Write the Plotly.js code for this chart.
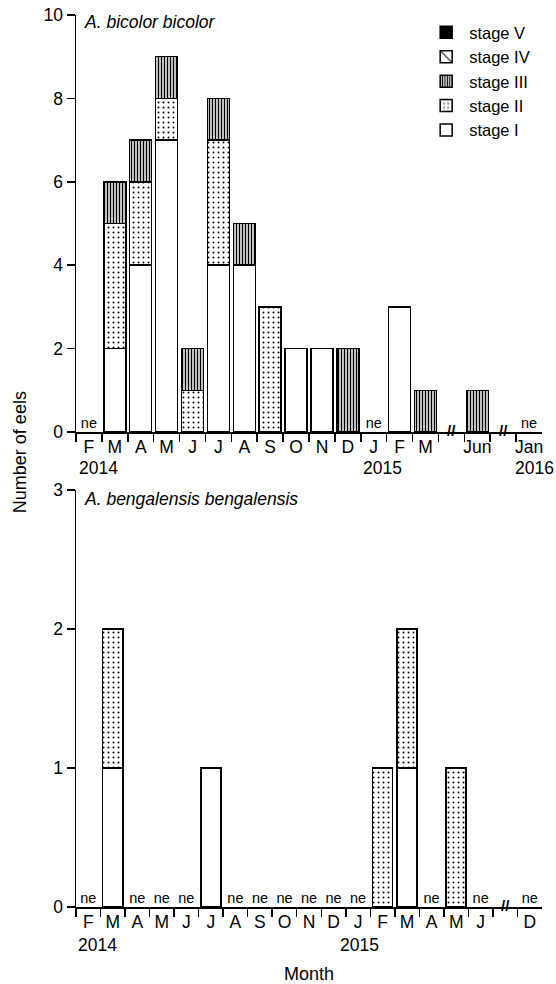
<!DOCTYPE html>
<html>
<head>
<meta charset="utf-8">
<script src="https://cdn.plot.ly/plotly-3.0.1.min.js"></script>
<style>html,body{margin:0;padding:0;background:#fff;}#chart{width:556px;height:984px;}</style>
</head>
<body>
<div id="chart"></div>
<script>
// ---- data: A. bicolor bicolor (top) ----
const topMonths = ['F','M','A','M','J','J','A','S','O','N','D','J','F','M','','Jun','','Jan'];
const topStageI   = [0,2,4,7,0,4,4,0,2,2,0,0,3,0,null,0,null,0];
const topStageII  = [0,3,2,1,1,3,0,3,0,0,0,0,0,0,null,0,null,0];
const topStageIII = [0,1,1,1,1,1,1,0,0,0,2,0,0,1,null,1,null,0];
const topStageIV  = [0,0,0,0,0,0,0,0,0,0,0,0,0,0,null,0,null,0];
const topStageV   = [0,0,0,0,0,0,0,0,0,0,0,0,0,0,null,0,null,0];
const topNE = [0, 11, 17];          // slots not examined
const topBreaks = [14, 16];         // axis breaks
const topYears = [{label:'2014', pos:0.85},{label:'2015', pos:11.85},{label:'2016', pos:17.7}];

// ---- data: A. bengalensis bengalensis (bottom) ----
const botMonths = ['F','M','A','M','J','J','A','S','O','N','D','J','F','M','A','M','J','','D'];
const botStageI   = [0,1,0,0,0,1,0,0,0,0,0,0,0,1,0,0,0,null,0];
const botStageII  = [0,1,0,0,0,0,0,0,0,0,0,0,1,1,0,1,0,null,0];
const botStageIII = [0,0,0,0,0,0,0,0,0,0,0,0,0,0,0,0,0,null,0];
const botStageIV  = [0,0,0,0,0,0,0,0,0,0,0,0,0,0,0,0,0,null,0];
const botStageV   = [0,0,0,0,0,0,0,0,0,0,0,0,0,0,0,0,0,null,0];
const botNE = [0,2,3,4,6,7,8,9,10,11,14,16,18];
const botBreaks = [17];
const botYears = [{label:'2014', pos:0.87},{label:'2015', pos:11.56}];

const stageNames = ['stage I','stage II','stage III','stage IV','stage V'];

// ---- styles ----
const FONT = 'Liberation Sans, Arial, Helvetica, sans-serif';
const patterns = [
  {shape:'', bgcolor:'#fff'},
  {shape:'.', size:5, solidity:0.12, fgcolor:'#000', bgcolor:'#fff', fillmode:'replace'},
  {shape:'|', size:3, solidity:0.5, fgcolor:'#000', bgcolor:'#fff', fillmode:'replace'},
  {shape:'\\', size:10, solidity:0.12, fgcolor:'#000', bgcolor:'#fff', fillmode:'replace'},
  {shape:'', bgcolor:'#000'}
];
const fills = ['#fff','#fff','#fff','#fff','#000'];

const centers = arr => arr.map((_, i) => i + 0.5);
const traces = [];
function addBars(series, xa, ya, width, showlegend) {
  series.forEach((vals, k) => {
    traces.push({
      type:'bar', x: centers(vals), y: vals.map(v => (v ? v : null)), name: stageNames[k],
      xaxis: xa, yaxis: ya, width: width, showlegend: showlegend,
      marker: {color: fills[k], line:{color:'#000', width:1.5}, pattern: patterns[k]},
      hoverinfo:'skip'
    });
  });
}
addBars([topStageI, topStageII, topStageIII, topStageIV, topStageV], 'x', 'y', 0.85, true);
addBars([botStageI, botStageII, botStageIII, botStageIV, botStageV], 'x2', 'y2', 0.82, false);

function neTrace(idx, xa, ya) {
  return {type:'scatter', mode:'text', x: idx.map(i => i + 0.5), y: idx.map(() => 0),
    text: idx.map(() => 'ne'), textposition:'top center',
    textfont:{family:FONT, size:14.5, color:'#000'}, xaxis:xa, yaxis:ya,
    showlegend:false, hoverinfo:'skip', cliponaxis:false};
}
traces.push(neTrace(topNE, 'x', 'y'));
traces.push(neTrace(botNE, 'x2', 'y2'));

function boundaries(months) {
  const b = [];
  for (let i = 0; i < months.length; i++) b.push(i);
  return b;
}
function xaxisDef(months, anchor) {
  return {
    domain:[0,1], anchor: anchor, range:[0, months.length],
    tickmode:'array', tickvals: centers(months), ticktext: months,
    ticks:'', ticklabelstandoff:-2,
    minor:{tickmode:'array', tickvals: boundaries(months), ticks:'outside', ticklen:8, tickwidth:1.5, tickcolor:'#000', showgrid:false},
    showline:true, linecolor:'#000', linewidth:1.5, showgrid:false, zeroline:false,
    tickfont:{family:FONT, size:17.5, color:'#000'}, fixedrange:true
  };
}
function yaxisDef(range, dtick, domain, anchor) {
  return {
    domain: domain, anchor: anchor, range: range, dtick: dtick, tick0:0,
    ticks:'outside', ticklen:8, tickwidth:1.5, tickcolor:'#000',
    showline:true, linecolor:'#000', linewidth:1.5, showgrid:false, zeroline:false,
    tickfont:{family:FONT, size:17.5, color:'#000'}, fixedrange:true
  };
}

const annotations = [];
function breakAnn(arr, xr, yr) {
  arr.forEach(i => annotations.push({xref:xr, yref:yr, x:i + 0.5, y:0, text:'<b>//</b>', showarrow:false,
    font:{family:FONT, size:15, color:'#000'}, yanchor:'middle', xanchor:'center', yshift:2}));
}
breakAnn(topBreaks, 'x', 'y');
breakAnn(botBreaks, 'x2', 'y2');
function yearAnn(arr, xr, yr, shift) {
  arr.forEach(o => annotations.push({xref:xr, yref:yr, x:o.pos, y:0, text:o.label, showarrow:false,
    font:{family:FONT, size:17.5, color:'#000'}, yanchor:'middle', xanchor:'center', yshift:shift}));
}
yearAnn(topYears, 'x', 'y', -36);
yearAnn(botYears, 'x2', 'y2', -38);

annotations.push({xref:'paper', yref:'y', x:0.013, y:10, text:'<i>A. bicolor bicolor</i>', showarrow:false,
  xanchor:'left', yanchor:'middle', yshift:-7, font:{family:FONT, size:17.5, color:'#000'}});
annotations.push({xref:'paper', yref:'y2', x:0.013, y:3, text:'<i>A. bengalensis bengalensis</i>', showarrow:false,
  xanchor:'left', yanchor:'middle', yshift:-9, font:{family:FONT, size:17.5, color:'#000'}});
annotations.push({xref:'paper', yref:'paper', x:-0.12, y:0.51, text:'Number of eels', textangle:-90, showarrow:false,
  xanchor:'center', yanchor:'middle', font:{family:FONT, size:18, color:'#000'}});

const layout = {
  width:556, height:984,
  margin:{l:76, r:14, t:15, b:77},
  paper_bgcolor:'#fff', plot_bgcolor:'#fff',
  barmode:'stack',
  font:{family:FONT, color:'#000'},
  xaxis: xaxisDef(topMonths, 'y'),
  yaxis: yaxisDef([0,10], 2, [0.5325, 1], 'x'),
  xaxis2: Object.assign(xaxisDef(botMonths, 'y2'), {
    title:{text:'Month', standoff:38, font:{family:FONT, size:18, color:'#000'}}
  }),
  yaxis2: yaxisDef([0,3], 1, [0, 0.4675], 'x2'),
  legend:{x:0.745, xanchor:'left', y:1.0, yanchor:'top', traceorder:'reversed',
    font:{family:FONT, size:16.5, color:'#000'}, bgcolor:'rgba(0,0,0,0)', itemwidth:36, tracegroupgap:0},
  annotations: annotations,
  showlegend:true
};

Plotly.newPlot('chart', traces, layout, {displayModeBar:false, staticPlot:true});
</script>
</body>
</html>
